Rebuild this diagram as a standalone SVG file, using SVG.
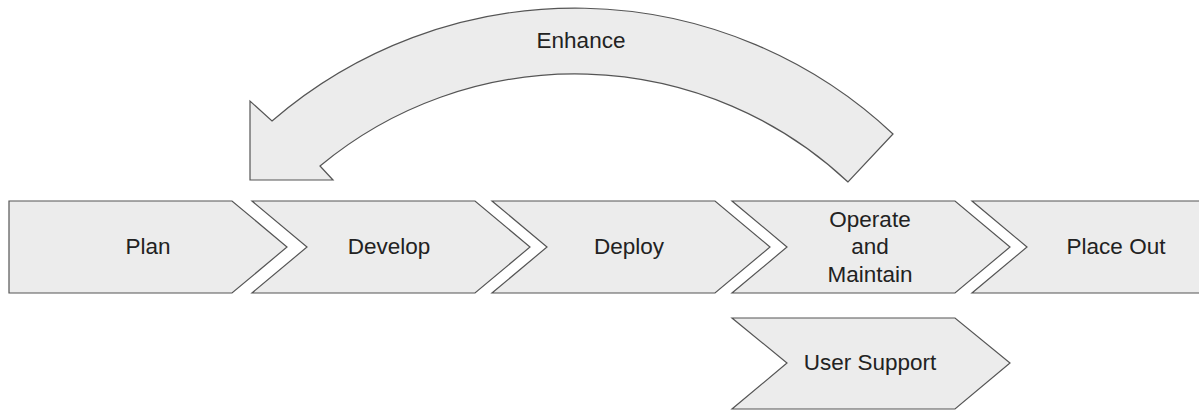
<svg xmlns="http://www.w3.org/2000/svg" width="1199" height="410" viewBox="0 0 1199 410">
<style>
.shape{fill:#ececec;stroke:#555;stroke-width:1.2;stroke-linejoin:miter}
.lbl{font-family:"Liberation Sans",Arial,sans-serif;font-size:22.5px;fill:#222;text-anchor:middle}
</style>
<rect width="1199" height="410" fill="#fff"/>
<g id="connectors">
<g id="enhance">
<path class="shape" d="M 893,134 A 464 464 0 0 0 272,121 L 250,101 L 250,180 L 333,180 L 320,166 A 399 399 0 0 1 848,182 Z"/>
<text class="lbl" x="581" y="48">Enhance</text>
</g>
</g>
<g id="plan">
<path class="shape" d="M 9,201 L 232,201 L 287,247 L 232,293 L 9,293 Z"/>
<text class="lbl" x="148" y="254">Plan</text>
</g>
<g id="develop">
<path class="shape" d="M 252,201 L 475,201 L 530,247 L 475,293 L 252,293 L 307,247 Z"/>
<text class="lbl" x="389" y="254">Develop</text>
</g>
<g id="deploy">
<path class="shape" d="M 492,201 L 715,201 L 770,247 L 715,293 L 492,293 L 547,247 Z"/>
<text class="lbl" x="629" y="254">Deploy</text>
</g>
<g id="operate">
<path class="shape" d="M 732,201 L 955,201 L 1010,247 L 955,293 L 732,293 L 787,247 Z"/>
<text class="lbl" x="870" y="227">Operate</text>
<text class="lbl" x="870" y="254">and</text>
<text class="lbl" x="870" y="282">Maintain</text>
</g>
<g id="place-out">
<path class="shape" d="M 972,201 L 1210,201 L 1210,293 L 972,293 L 1027,247 Z"/>
<text class="lbl" x="1116" y="254">Place Out</text>
</g>
<g id="user-support">
<path class="shape" d="M 732,318 L 955,318 L 1010,363 L 955,409 L 732,409 L 787,363 Z"/>
<text class="lbl" x="870" y="370">User Support</text>
</g>
</svg>
